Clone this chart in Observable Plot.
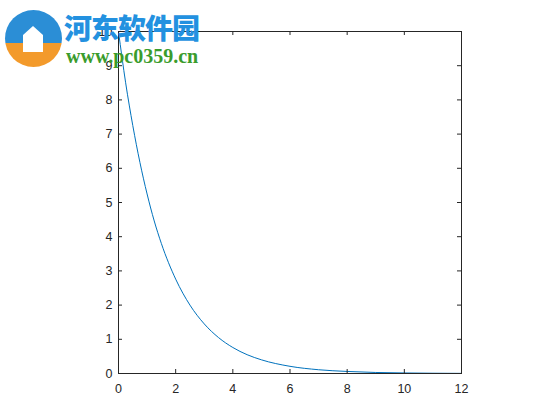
<!DOCTYPE html>
<html><head><meta charset="utf-8">
<script src="https://cdn.jsdelivr.net/npm/d3@7"></script>
<script src="https://cdn.jsdelivr.net/npm/@observablehq/plot@0.6"></script>
<style>
body{margin:0;background:#fff;}
#wrap{position:relative;width:560px;height:420px;}
#logo{position:absolute;left:5px;top:10px;width:57px;height:57px;border-radius:50%;
 background:linear-gradient(to bottom,#2b8ed6 0%,#2b8ed6 58%,#f39a2b 58%,#f39a2b 100%);}
#logo .h{position:absolute;left:18px;top:16px;width:20px;height:26px;background:#fff;clip-path:polygon(50% 0,100% 35%,100% 100%,0 100%,0 35%);}
#cn{position:absolute;left:64px;top:10px;font-family:"Noto Sans CJK SC",sans-serif;font-weight:900;font-size:28px;line-height:34px;color:#2391e0;letter-spacing:-1px;white-space:nowrap;}
#url{position:absolute;left:66px;top:45px;font-family:"Liberation Serif","DejaVu Serif",serif;font-weight:bold;font-size:20px;line-height:22px;color:#3a9c2c;white-space:nowrap;}
</style></head><body><div id="wrap"></div>
<script>
const tValues = [0, 0.25, 0.5, 0.75, 1, 1.25, 1.5, 2, 2.5, 3, 3.5, 4, 4.5, 5, 6, 7, 8, 9, 10, 11, 12];
const yValues = [10, 8.5, 7.25, 6.17, 5.25, 4.46, 3.8, 2.76, 2.0, 1.45, 1.05, 0.76, 0.55, 0.40, 0.21, 0.11, 0.06, 0.03, 0.016, 0.008, 0.004];
const xTicks = [0, 2, 4, 6, 8, 10, 12];
const yTicks = [0, 1, 2, 3, 4, 5, 6, 7, 8, 9, 10];

const data = tValues.map((t, i) => ({t, y: yValues[i]}));
const W = 560, H = 420, mL = 118, mR = 99, mT = 31, mB = 47;
const innerH = H - mT - mB, innerW = W - mL - mR, tk = 4;
const ink = "#262626";
const chart = Plot.plot({
  width: W, height: H, marginLeft: mL, marginRight: mR, marginTop: mT, marginBottom: mB,
  style: {fontFamily: "'Liberation Sans', Arial, sans-serif", fontSize: "12.5px", color: ink, background: "white"},
  x: {domain: [0, 12], label: null},
  y: {domain: [0, 10], label: null},
  marks: [
    Plot.line(data, {x: "t", y: "y", stroke: "#0072BD", strokeWidth: 1, curve: "monotone-x"}),
    Plot.ruleX(xTicks, {x: d => d, insetTop: innerH - tk, stroke: ink}),
    Plot.ruleX(xTicks, {x: d => d, insetBottom: innerH - tk, stroke: ink}),
    Plot.ruleY(yTicks, {y: d => d, insetRight: innerW - tk, stroke: ink}),
    Plot.ruleY(yTicks, {y: d => d, insetLeft: innerW - tk, stroke: ink}),
    Plot.frame({stroke: ink}),
    Plot.axisX(xTicks, {tickSize: 0, tickPadding: 11, fill: ink, fontSize: 12.5}),
    Plot.axisY(yTicks, {tickSize: 0, tickPadding: 6, fill: ink, fontSize: 12.5})
  ]
});
const wrap = document.getElementById("wrap");
wrap.appendChild(chart);
wrap.insertAdjacentHTML("beforeend", '<div id="logo"><div class="h"></div></div><div id="cn">河东软件园</div><div id="url">www.pc0359.cn</div>');
</script>
</body></html>
